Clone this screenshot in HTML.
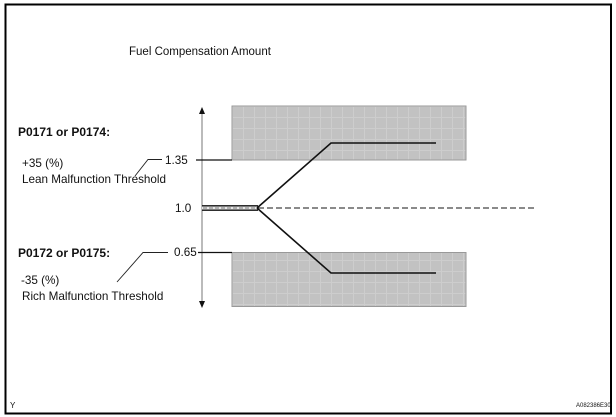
<!DOCTYPE html>
<html>
<head>
<meta charset="utf-8">
<style>
html,body{margin:0;padding:0;background:#fff;}
svg{display:block;}
text{font-family:"Liberation Sans",Arial,sans-serif;fill:#111;}
</style>
</head>
<body>
<svg width="616" height="417" viewBox="0 0 616 417" xmlns="http://www.w3.org/2000/svg">
<defs>
<pattern id="grd" x="232" y="106" width="11" height="11" patternUnits="userSpaceOnUse">
<rect width="11" height="11" fill="#c2c2c2"/>
<rect x="0" y="0" width="1" height="11" fill="#cdcdcd"/>
<rect x="0" y="0" width="11" height="1" fill="#cdcdcd"/>
</pattern>
</defs>
<!-- frame -->
<path d="M5.5 4.5 H611 V413.5 H5.5 Z" fill="none" stroke="#000" stroke-width="2"/>

<text x="129" y="55" font-size="11.5">Fuel Compensation Amount</text>

<!-- rectangles -->
<rect x="232" y="106" width="234" height="54" fill="url(#grd)" stroke="#999" stroke-width="1"/>
<rect x="232" y="252.5" width="234" height="54" fill="url(#grd)" stroke="#999" stroke-width="1"/>

<!-- axis -->
<line x1="202" y1="112" x2="202" y2="303" stroke="#777" stroke-width="1"/>
<polygon points="202,107 199,114 205,114" fill="#111"/>
<polygon points="202,308 199,301 205,301" fill="#111"/>

<!-- threshold lines -->
<line x1="196" y1="160" x2="232" y2="160" stroke="#111" stroke-width="1.2"/>
<line x1="198" y1="252.5" x2="232" y2="252.5" stroke="#111" stroke-width="1.2"/>

<!-- 1.0 double line -->
<rect x="202" y="205.5" width="56" height="5" fill="#e8e8e8"/>
<line x1="202" y1="205.8" x2="258" y2="205.8" stroke="#111" stroke-width="1.3"/>
<line x1="202" y1="210.2" x2="258" y2="210.2" stroke="#111" stroke-width="1.3"/>
<line x1="203" y1="208" x2="257" y2="208" stroke="#777" stroke-width="1" stroke-dasharray="4,2"/>
<line x1="258" y1="208" x2="536" y2="208" stroke="#444" stroke-width="1.3" stroke-dasharray="6,3"/>

<!-- curves -->
<polyline points="257,208 331,143 436,143" fill="none" stroke="#111" stroke-width="1.6"/>
<polyline points="257,208 331,273 436,273" fill="none" stroke="#111" stroke-width="1.6"/>

<!-- leaders -->
<polyline points="135,176 148,159.5 162,159.5" fill="none" stroke="#222" stroke-width="0.9"/>
<polyline points="117,282 143,252.5 168,252.5" fill="none" stroke="#222" stroke-width="0.9"/>

<!-- labels -->
<text x="18" y="136" font-size="12" font-weight="bold">P0171 or P0174:</text>
<text x="22" y="167" font-size="11.7">+35 (%)</text>
<text x="22" y="183" font-size="11.7">Lean Malfunction Threshold</text>
<text x="165" y="164" font-size="11.7">1.35</text>
<text x="175" y="212" font-size="11.7">1.0</text>

<text x="18" y="257" font-size="12" font-weight="bold">P0172 or P0175:</text>
<text x="21" y="284" font-size="11.7">-35 (%)</text>
<text x="22" y="300" font-size="11.7">Rich Malfunction Threshold</text>
<text x="174" y="256" font-size="11.7">0.65</text>

<text x="10" y="408" font-size="8" fill="#333">Y</text>
<text x="576" y="407" font-size="6" fill="#333">A082386E30</text>
</svg>
</body>
</html>
